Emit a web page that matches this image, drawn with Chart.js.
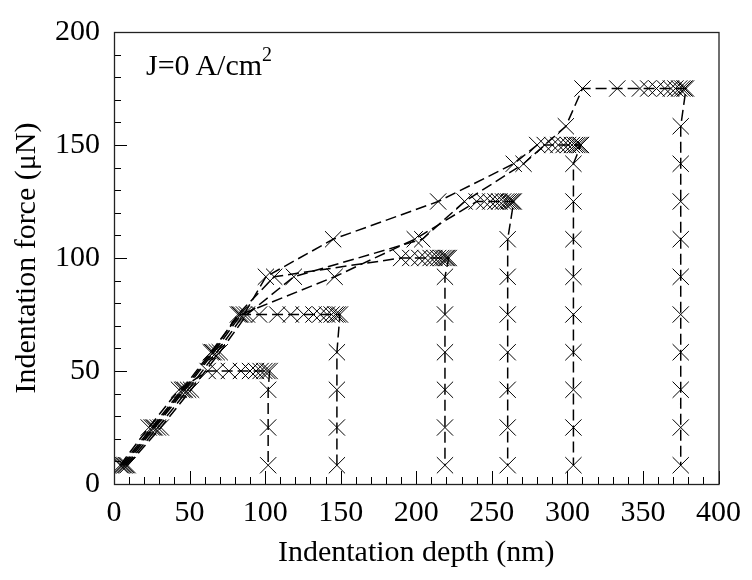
<!DOCTYPE html>
<html>
<head>
<meta charset="utf-8">
<title>Indentation force vs depth</title>
<script src="https://cdn.jsdelivr.net/npm/chart.js@4.4.1/dist/chart.umd.min.js"></script>
<style>
html, body { margin: 0; padding: 0; background: #fff; }
#wrap { position: relative; width: 752px; height: 580px; }
#note { position: absolute; left: 146px; top: 50px; font: 30px "Liberation Serif", "Times New Roman", serif; line-height: 1; color: #000; white-space: nowrap; }
#note span { font-size: 20px; position: relative; top: -14px; }
</style>
</head>
<body>
<div id="wrap">
  <canvas id="chart" width="752" height="580"></canvas>
  <div id="note">J=0 A/cm<span>2</span></div>
</div>
<script>
// Indentation curves, J = 0 A/cm^2 -- depth in nm, force in uN
// each curve: loading, hold at peak force, unloading
var depth50 = [4, 23, 43, 62, 68, 76, 84, 90, 94, 97, 99.5, 101.5, 103, 102, 102, 102];
var force50 = [8.3, 25, 41.7, 50, 50, 50, 50, 50, 50, 50, 50, 50, 50, 41.7, 25, 8.3];

var depth75 = [5, 25, 45, 64, 83, 96, 108, 117, 125.5, 132, 136.5, 141, 144, 146.5, 148, 149.5,
    147.5, 147.5, 147.5, 147.5];
var force75 = [8.3, 25, 41.7, 58.3, 75, 75, 75, 75, 75, 75, 75, 75, 75, 75, 75, 75,
    58.3, 41.7, 25, 8.3];

var depth100 = [6, 26, 46, 65, 82, 106, 190, 196, 202, 206, 209.5, 212, 214.5, 216.5, 218, 219.5, 220.5, 221.5,
    219, 219, 219, 219, 219, 219];
var force100 = [8.3, 25, 41.7, 58.3, 75, 91.7, 100, 100, 100, 100, 100, 100, 100, 100, 100, 100, 100, 100,
    91.7, 75, 58.3, 41.7, 25, 8.3];

var depth125 = [7, 27, 47, 66, 84, 146, 199, 240, 245, 249, 252.5, 255, 257.5, 259.5, 261, 262.5, 263.5, 264.5,
    260.5, 260.5, 260.5, 260.5, 260.5, 260.5, 260.5];
var force125 = [8.3, 25, 41.7, 58.3, 75, 91.7, 108.3, 125, 125, 125, 125, 125, 125, 125, 125, 125, 125, 125,
    108.3, 91.7, 75, 58.3, 41.7, 25, 8.3];

var depth150 = [8, 29, 49, 68, 86, 100.5, 145, 214.5, 264.5, 280, 285, 290, 294, 297.5, 300.5, 303, 305, 306.5, 308, 309,
    304, 304, 304, 304, 304, 304, 304, 304, 304];
var force150 = [8.3, 25, 41.7, 58.3, 75, 91.7, 108.3, 125, 141.7, 150, 150, 150, 150, 150, 150, 150, 150, 150, 150, 150,
    141.7, 125, 108.3, 91.7, 75, 58.3, 41.7, 25, 8.3];

var depth175 = [9, 31, 51, 70, 88, 119, 204, 232, 271, 299, 310, 333, 348, 353.5, 359, 364.5, 368.5, 371.5, 374, 376, 377.5, 378.5,
    375, 375, 375, 375, 375, 375, 375, 375, 375, 375];
var force175 = [8.3, 25, 41.7, 58.3, 75, 91.7, 108.3, 125, 141.7, 158.3, 175, 175, 175, 175, 175, 175, 175, 175, 175, 175, 175, 175,
    158.3, 141.7, 125, 108.3, 91.7, 75, 58.3, 41.7, 25, 8.3];

var curves = [
    [depth50, force50],
    [depth75, force75],
    [depth100, force100],
    [depth125, force125],
    [depth150, force150],
    [depth175, force175]
];

var serif = '"Liberation Serif", "Times New Roman", serif';

// ticks point inward, box on all four sides
var innerTicks = {
    id: 'innerTicks',
    afterDraw: function (chart) {
        var ctx = chart.ctx, a = chart.chartArea;
        var xs = chart.scales.x, ys = chart.scales.y;
        ctx.save();
        ctx.strokeStyle = '#000';
        ctx.lineWidth = 1;
        ctx.beginPath();
        xs.ticks.forEach(function (t) {
            var px = Math.round(xs.getPixelForValue(t.value)) + 0.5;
            var len = t.value % 50 === 0 ? 13 : 7;
            ctx.moveTo(px, a.bottom);
            ctx.lineTo(px, a.bottom - len);
        });
        ys.ticks.forEach(function (t) {
            var py = Math.round(ys.getPixelForValue(t.value)) + 0.5;
            var len = t.value % 50 === 0 ? 13 : 7;
            ctx.moveTo(a.left, py);
            ctx.lineTo(a.left + len, py);
        });
        ctx.stroke();
        ctx.lineWidth = 1.3;
        ctx.strokeStyle = '#222';
        ctx.strokeRect(a.left + 0.5, a.top + 0.5, a.right - a.left, a.bottom - a.top);
        ctx.restore();
    }
};

var ctx = document.getElementById('chart').getContext('2d');
new Chart(ctx, {
    type: 'scatter',
    data: {
        datasets: curves.map(function (c) {
            return {
                data: c[0].map(function (x, i) { return { x: x, y: c[1][i] }; }),
                showLine: true,
                borderColor: '#000',
                borderWidth: 1.5,
                borderDash: [11, 5],
                pointStyle: 'crossRot',
                pointRadius: 11.5,
                pointBorderWidth: 1,
                pointBorderColor: '#000',
                pointBackgroundColor: '#000',
                tension: 0
            };
        })
    },
    options: {
        responsive: false,
        animation: false,
        layout: { padding: { top: 22, right: 24, left: 0, bottom: 0 } },
        plugins: {
            legend: { display: false },
            tooltip: { enabled: false }
        },
        scales: {
            x: {
                type: 'linear',
                min: 0,
                max: 400,
                grid: { display: false, drawTicks: false },
                border: { display: false },
                ticks: {
                    stepSize: 10,
                    autoSkip: false,
                    maxRotation: 0,
                    padding: 11,
                    color: '#000',
                    font: { family: serif, size: 30 },
                    callback: function (v) { return v % 50 === 0 ? v : ''; }
                },
                title: {
                    display: true,
                    text: 'Indentation depth (nm)',
                    color: '#000',
                    font: { family: serif, size: 30 },
                    padding: { top: 0, bottom: 9 }
                },
                afterFit: function (s) { s.height = 96; }
            },
            y: {
                type: 'linear',
                min: 0,
                max: 200,
                grid: { display: false, drawTicks: false },
                border: { display: false },
                ticks: {
                    stepSize: 10,
                    autoSkip: false,
                    padding: 14,
                    color: '#000',
                    font: { family: serif, size: 30 },
                    callback: function (v) { return v % 50 === 0 ? v : ''; }
                },
                title: {
                    display: true,
                    text: 'Indentation force (\u03bcN)',
                    color: '#000',
                    font: { family: serif, size: 30 },
                    padding: { top: 9, bottom: 0 }
                },
                afterFit: function (s) { s.width = 114; }
            }
        }
    },
    plugins: [innerTicks]
});
</script>
</body>
</html>
